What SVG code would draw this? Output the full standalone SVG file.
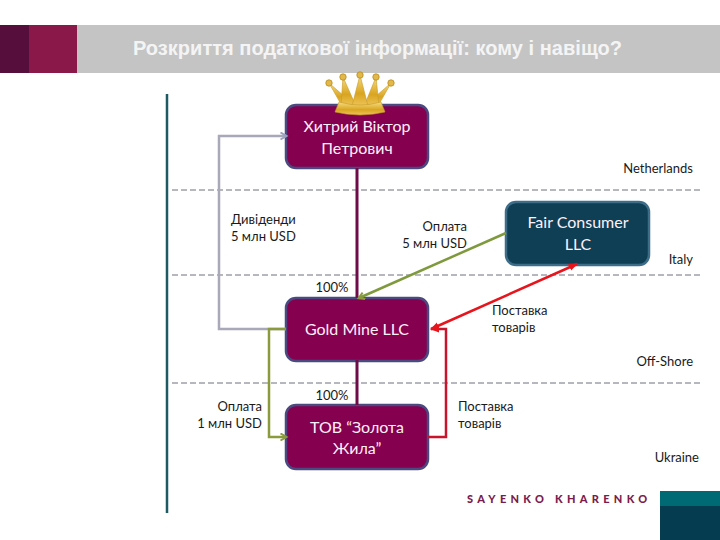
<svg xmlns="http://www.w3.org/2000/svg" width="720" height="540" viewBox="0 0 720 540">
<defs>
<style>
text{font-family:"Lato","Open Sans","Liberation Sans",sans-serif}
.lbl{font-size:13px;fill:#1a1a1a}
.nt{font-size:16px;fill:#fff0fa;text-anchor:middle}
.m{fill:#85004f;stroke:#4a4a80;stroke-width:2.5}
.t{fill:#0f3f55;stroke:#3d6d88;stroke-width:2.5}
.d{stroke:#6f6f80;stroke-width:1;stroke-dasharray:6 3;fill:none}
.c{fill:none;stroke-width:2.5}
.sp{fill:url(#gold);stroke:#c69a28;stroke-width:.6}
.b{fill:#e3b84a;stroke:#b98a18;stroke-width:.8}
</style>
<marker id="ag" markerWidth="9" markerHeight="9" refX="6.5" refY="4" orient="auto" markerUnits="userSpaceOnUse"><path d="M1 0.5L7 4L1 7.5" fill="none" stroke="#9aa0c0" stroke-width="2"/></marker>
<marker id="ao" markerWidth="9" markerHeight="9" refX="6.5" refY="4" orient="auto" markerUnits="userSpaceOnUse"><path d="M1 0.5L7 4L1 7.5" fill="none" stroke="#8a9a3c" stroke-width="2"/></marker>
<marker id="ar" markerWidth="10" markerHeight="8" refX="8" refY="4" orient="auto-start-reverse" markerUnits="userSpaceOnUse"><path d="M0 0.5L9 4L0 7.5Z" fill="#e8141c"/></marker>
<linearGradient id="gold" x1="0" y1="0" x2="0" y2="1"><stop offset="0" stop-color="#f6dc80"/><stop offset="0.6" stop-color="#d9a520"/><stop offset="1" stop-color="#eec458"/></linearGradient>
</defs>
<g id="header">
<rect x="77" y="25" width="643" height="48" fill="#c4c4c4"/>
<rect x="0" y="25" width="29" height="48" fill="#560f3c"/>
<rect x="29" y="25" width="48" height="48" fill="#8a1848"/>
<text x="133" y="55" textLength="489" style="font-family:'Liberation Sans',sans-serif;font-size:20px;font-weight:700;fill:#f4f4f4">Розкриття податкової інформації: кому і навіщо?</text>
</g>
<line id="rule" x1="167" y1="94" x2="167" y2="513" stroke="#1e5a62" stroke-width="2.5"/>
<g id="borders">
<line class="d" x1="172" y1="190" x2="703" y2="190"/>
<line class="d" x1="172" y1="275" x2="703" y2="275"/>
<line class="d" x1="172" y1="383" x2="703" y2="383"/>
</g>
<g id="node-khytryi">
<rect class="m" x="286" y="105" width="142" height="63" rx="10"/>
<text class="nt" x="357" y="132">Хитрий Віктор</text>
<text class="nt" x="357" y="154">Петрович</text>
</g>
<g id="node-fair">
<rect class="t" x="506" y="202" width="143" height="63" rx="10"/>
<text class="nt" x="578" y="228">Fair Consumer</text>
<text class="nt" x="578" y="250">LLC</text>
</g>
<g id="node-gold">
<rect class="m" x="286" y="298" width="142" height="63" rx="10"/>
<text class="nt" x="357" y="335">Gold Mine LLC</text>
</g>
<g id="node-tov">
<rect class="m" x="286" y="405" width="142" height="64" rx="10"/>
<text class="nt" x="357" y="433">ТОВ “Золота</text>
<text class="nt" x="357" y="454">Жила”</text>
</g>
<g id="connectors">
<path class="c" d="M286 329H219V136H286" stroke="#a8a8b8" marker-end="url(#ag)"/>
<path class="c" d="M286 329H269V437H286" stroke="#8a9a3c" marker-end="url(#ao)"/>
<path class="c" d="M357 168V298M357 360V405" stroke="#6e0c48" style="stroke-width:3"/>
<path class="c" d="M506 233L359 298" stroke="#7f9a3c" marker-end="url(#ao)"/>
<path class="c" d="M428 437H446V329H431" stroke="#c8142c" marker-end="url(#ar)"/>
<path class="c" d="M577 264L431 329" stroke="#e8141c" marker-start="url(#ar)" marker-end="url(#ar)"/>
</g>
<g id="crown">
<path class="sp" d="M329 83L352 103L342 106Z"/>
<path class="sp" d="M391 83L368 103L378 106Z"/>
<path class="sp" d="M343 77L341 106L355 104Z"/>
<path class="sp" d="M376 77L379 106L365 104Z"/>
<path class="sp" d="M360 75L352 106H368Z"/>
<path d="M339 102Q360 108 381 102L385 112Q360 118 335 112Z" fill="url(#gold)" stroke="#c69a28" stroke-width=".6"/>
<circle class="b" cx="329" cy="83" r="3.2"/>
<circle class="b" cx="343" cy="77" r="3.2"/>
<circle class="b" cx="360" cy="75" r="3.2"/>
<circle class="b" cx="376" cy="77" r="3.2"/>
<circle class="b" cx="391" cy="83" r="3.2"/>
</g>
<g id="labels">
<text class="lbl" x="231" y="224">Дивіденди</text>
<text class="lbl" x="231" y="241">5 млн USD</text>
<text class="lbl" x="467" y="231" text-anchor="end">Оплата</text>
<text class="lbl" x="467" y="248" text-anchor="end">5 млн USD</text>
<text class="lbl" x="332" y="292" text-anchor="middle">100%</text>
<text class="lbl" x="492" y="315">Поставка</text>
<text class="lbl" x="492" y="332">товарів</text>
<text class="lbl" x="262" y="411" text-anchor="end">Оплата</text>
<text class="lbl" x="262" y="428" text-anchor="end">1 млн USD</text>
<text class="lbl" x="332" y="400" text-anchor="middle">100%</text>
<text class="lbl" x="458" y="411">Поставка</text>
<text class="lbl" x="458" y="428">товарів</text>
<text class="lbl" x="693" y="173" text-anchor="end">Netherlands</text>
<text class="lbl" x="693" y="264" text-anchor="end">Italy</text>
<text class="lbl" x="693" y="366" text-anchor="end">Off-Shore</text>
<text class="lbl" x="699" y="462" text-anchor="end">Ukraine</text>
</g>
<g id="logo">
<text x="467" y="503" style="font-family:'Lato',sans-serif;font-size:11px;font-weight:900;fill:#7a1c4c;letter-spacing:4.3px">SAYENKO KHARENKO</text>
<rect x="660" y="491" width="60" height="15" fill="#006a74"/>
<rect x="660" y="506" width="60" height="34" fill="#063c50"/>
</g>
</svg>
